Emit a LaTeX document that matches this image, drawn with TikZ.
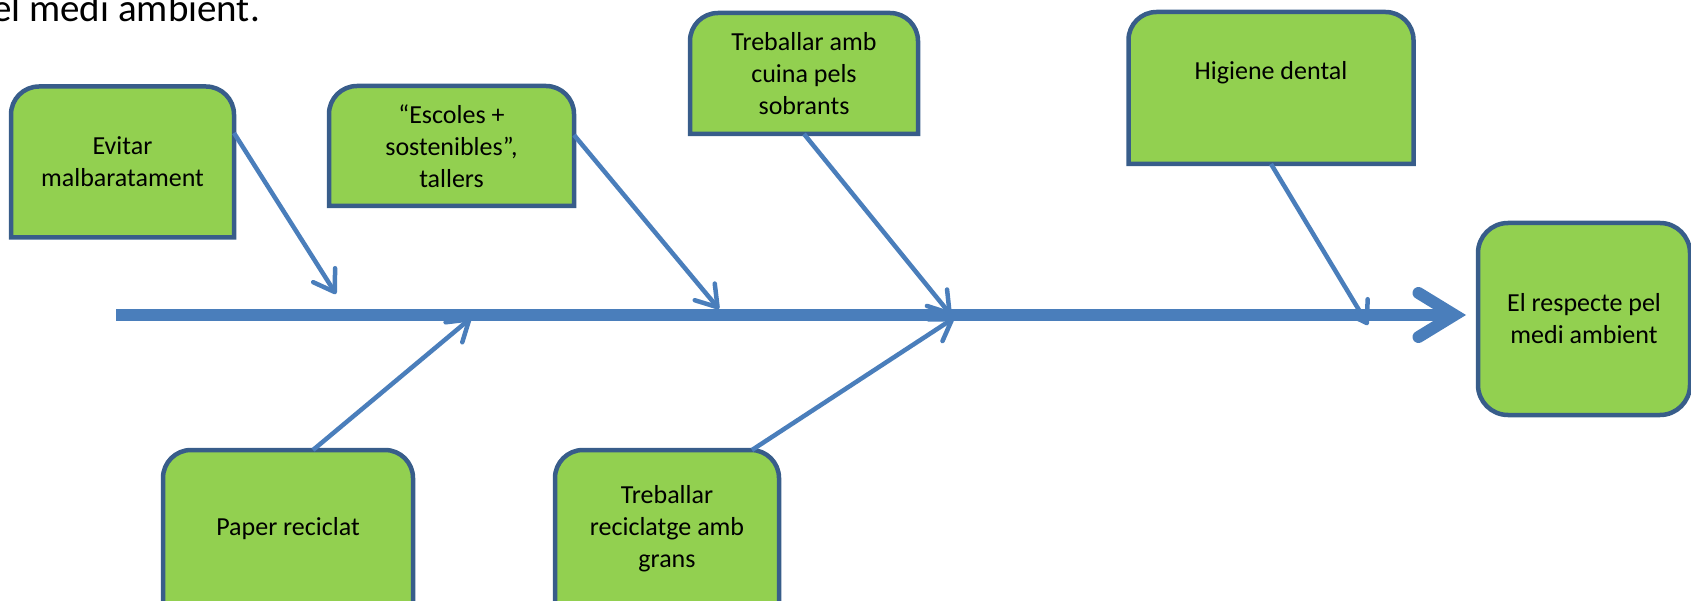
\documentclass[tikz,border=0pt]{standalone}
\usepackage{fontspec}
\setmainfont{Carlito}
\usetikzlibrary{arrows.meta,calc}
\pgfdeclarelayer{background}
\pgfsetlayers{background,main}
\definecolor{leaf}{HTML}{92D050}
\definecolor{rim}{HTML}{385D8A}
\definecolor{bone}{HTML}{4A7EBB}

\begin{document}
\begin{tikzpicture}[x=1pt,y=1pt,
  cause/.style={rectangle, inner sep=0pt, outer sep=0pt, align=center,
    font=\fontsize{26}{32}\selectfont, text=black},
  boxshape/.style={draw=rim, fill=leaf, line width=4.5pt},
  spine/.style={draw=bone, line width=12pt,
    -{Straight Barb[length=36pt,width=44pt,line cap=round,line join=miter]}},
  branch/.style={draw=bone, line width=4.5pt,
    -{Straight Barb[length=20pt,width=26pt,line cap=round,line join=round]}}
]
\useasboundingbox (0,0) rectangle (1691,-601);

% heading line running off the top edge
\node[anchor=base west, inner sep=0pt, font=\fontsize{39}{47}\selectfont] (caption)
  at (-8,-22) {el medi ambient.};

% cause boxes
\node[cause, minimum width=223pt, minimum height=151pt] (evitar) at (122.5,-162) {Evitar\\malbaratament};
\node[cause, minimum width=245pt, minimum height=120pt] (escoles) at (451.5,-146) {“Escoles +\\sostenibles”,\\tallers};
\node[cause, minimum width=228pt, minimum height=121pt] (cuina) at (804,-73.5) {Treballar amb\\cuina pels\\sobrants};
\node[cause, minimum width=285pt, minimum height=152pt] (higiene) at (1271,-88) {Higiene dental\\\rule[-4pt]{0pt}{4pt}};
\node[cause, minimum width=250pt, minimum height=158pt] (paper) at (288,-529) {Paper reciclat};
\node[cause, minimum width=224pt, minimum height=158pt] (reciclatge) at (667,-529) {Treballar\\reciclatge amb\\grans};

% effect box
\node[cause, boxshape, rounded corners=30pt, minimum width=212pt, minimum height=192pt]
  (respecte) at (1584,-319) {El respecte pel\\medi ambient};

\begin{pgfonlayer}{background}
  \foreach \n in {evitar,escoles,cuina,higiene,paper,reciclatge}{
    \draw[boxshape] (\n.south west) -- ([yshift=-28pt]\n.north west)
      arc[start angle=180,end angle=90,radius=28pt]
      -- ([xshift=-28pt]\n.north east)
      arc[start angle=90,end angle=0,radius=28pt]
      -- (\n.south east) -- cycle;
  }
\end{pgfonlayer}

% spine
\coordinate (tail) at (116,-315);
\draw[spine] (tail) -- ($(respecte.west |- tail)+(-12,0)$);

% branch ends on the spine
\coordinate (e1) at (336,-294);
\coordinate (e2) at (719,-309);
\coordinate (e3) at (951,-315);
\coordinate (e4) at (1368,-325);
\coordinate (e5) at (471,-318);
\coordinate (e6) at (954,-318);

\draw[branch] ([yshift=29pt]evitar.east) -- (e1);
\draw[branch] ([yshift=11pt]escoles.east) -- (e2);
\draw[branch] (cuina.south) -- (e3);
\draw[branch] (higiene.south) -- (e4);
\draw[branch] ([xshift=25pt]paper.north) -- (e5);
\draw[branch] ([xshift=85pt]reciclatge.north) -- (e6);
\end{tikzpicture}
\end{document}
